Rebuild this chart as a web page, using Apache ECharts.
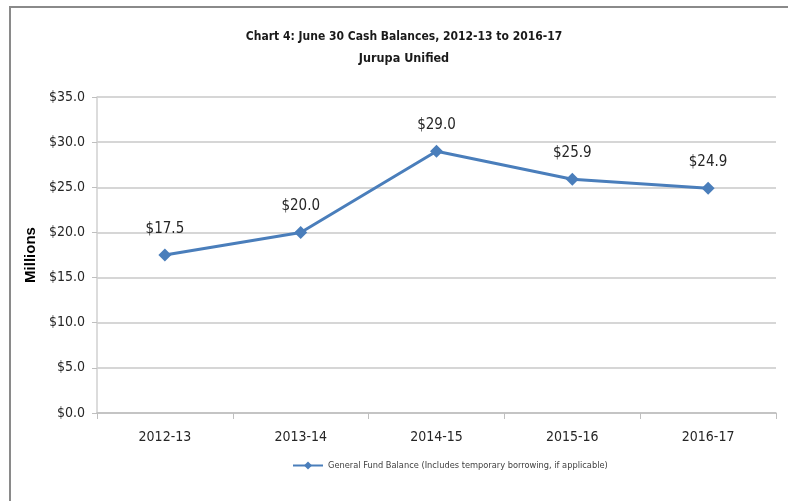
<!DOCTYPE html>
<html>
<head>
<meta charset="utf-8">
<script src="https://cdn.jsdelivr.net/npm/echarts@6/dist/echarts.min.js"></script>
<style>
html,body{margin:0;padding:0;background:#fff;}
#c{width:788px;height:501px;}
</style>
</head>
<body>
<div id="c"></div>
<script>
const categories = ['2012-13', '2013-14', '2014-15', '2015-16', '2016-17'];
const balances = [17.5, 20.0, 29.0, 25.9, 24.9];
const yMin = 0, yMax = 35, yStep = 5;
const titleText = 'Chart 4: June 30 Cash Balances, 2012-13 to 2016-17';
const subtitleText = 'Jurupa Unified';
const seriesName = 'General Fund Balance (Includes temporary borrowing, if applicable)';

const narrow = "'DejaVu Sans Condensed', 'Open Sans', sans-serif";
const chart = echarts.init(document.getElementById('c'));
chart.setOption({
  animation: false,
  backgroundColor: '#fff',
  graphic: [
    { type: 'rect', shape: { x: 9, y: 6, width: 779, height: 2 }, style: { fill: '#8a8a8a' } },
    { type: 'rect', shape: { x: 9, y: 6, width: 2, height: 495 }, style: { fill: '#8a8a8a' } }
  ],
  title: {
    text: titleText,
    subtext: subtitleText,
    left: 399,
    textAlign: 'center',
    top: 26,
    itemGap: 9,
    textStyle: { fontFamily: narrow, fontWeight: 'bold', fontSize: 12, color: '#1a1a1a' },
    subtextStyle: { fontFamily: narrow, fontWeight: 'bold', fontSize: 12.5, color: '#1a1a1a' }
  },
  legend: {
    data: [seriesName],
    bottom: 26,
    left: 287,
    itemWidth: 30,
    itemHeight: 10,
    itemGap: 4,
    textStyle: { fontFamily: narrow, fontSize: 9.2, color: '#404040' }
  },
  grid: { left: 97, right: 12, top: 97, bottom: 88 },
  xAxis: {
    type: 'category',
    data: categories,
    boundaryGap: true,
    axisLine: { lineStyle: { color: '#bfbfbf', width: 1.5 } },
    axisTick: { show: true, length: 6, lineStyle: { color: '#bfbfbf' } },
    axisLabel: { margin: 17, fontFamily: narrow, fontSize: 14, color: '#262626' }
  },
  yAxis: {
    type: 'value',
    min: yMin, max: yMax, interval: yStep,
    name: 'Millions',
    nameLocation: 'middle',
    nameGap: 59,
    nameMoveOverlap: false,
    nameRotate: 90,
    nameTextStyle: { fontFamily: 'Liberation Sans, Arial, sans-serif', fontWeight: 'bold', fontSize: 15, color: '#000' },
    axisLine: { show: true, lineStyle: { color: '#d0d0d0', width: 1.5 } },
    axisTick: { show: true, length: 5, lineStyle: { color: '#bfbfbf' } },
    splitLine: { show: true, lineStyle: { color: '#c8c8c8', width: 1.5 } },
    axisLabel: {
      margin: 12,
      fontFamily: narrow, fontSize: 14, color: '#262626',
      formatter: v => '$' + v.toFixed(1)
    }
  },
  series: [{
    name: seriesName,
    type: 'line',
    data: balances,
    symbol: 'diamond',
    symbolSize: 13,
    lineStyle: { color: '#4a7ebb', width: 3 },
    itemStyle: { color: '#4a7ebb' },
    label: {
      show: true,
      position: 'top',
      distance: 12,
      fontFamily: narrow, fontSize: 15, color: '#262626',
      formatter: p => '$' + p.value.toFixed(1)
    }
  }]
});
</script>
</body>
</html>
